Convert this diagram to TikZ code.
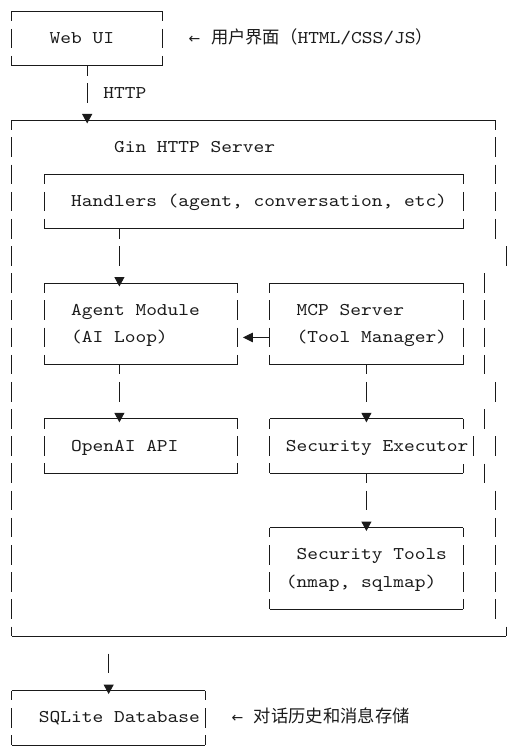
\documentclass[tikz,border=0pt]{standalone}
\usepackage{fontspec}
\usetikzlibrary{arrows.meta,calc,fit}
\newfontfamily\mono{lmmono10-regular.otf}[FakeStretch=1.1429]
\newfontfamily\cjk{Noto Sans CJK SC}
\newfontfamily\arrfont{DejaVu Sans}
\definecolor{ink}{HTML}{1A1A1A}
\newcommand\cjktext{\cjk\fontsize{17.3}{20}\selectfont}
\newcommand\asciibox[1]{%
  \draw[hline] (#1.north west) -- (#1.north east);
  \draw[hline] (#1.south west) -- (#1.south east);
  \draw[vside] (#1.north west) -- (#1.south west);
  \draw[vside] (#1.north east) -- (#1.south east);}
\begin{document}
\begin{tikzpicture}[x=10.74pt, y=-27.17pt, line width=1pt,
  hline/.style={draw=ink},
  vside/.style={draw=ink, dash pattern=on 19.6pt off 7.57pt, dash phase=9.8pt},
  area/.style={inner sep=0pt, outer sep=0pt},
  txt/.style={anchor=base west, inner sep=0pt, outer sep=0pt, font=\mono\fontsize{17.9}{20}\selectfont, text=ink},
  arr/.style={anchor=base, inner sep=0pt, font=\arrfont\fontsize{14}{16}\selectfont, text=ink},
  conn/.style={draw=ink, dash pattern=on 9.8pt off 7.57pt on 19.6pt off 40pt, -{Triangle[length=9.5pt,width=10pt]}},
  connb/.style={draw=ink, dash pattern=on 0pt off 17.37pt on 19.6pt off 40pt, -{Triangle[length=9.5pt,width=10pt]}},
  harr/.style={draw=ink, -{Triangle[length=10pt,width=9.5pt]}}]
\useasboundingbox (-1.1173,-0.4196) rectangle (47.02,27.405);

% box areas
\node[area, fit={(0,0)(14,2)}] (web) {};
\node[area, fit={(0,4)(45,23)}] (server) {};
\node[area, fit={(3,6)(42,8)}] (hand) {};
\node[area, fit={(3,10)(21,13)}] (agent) {};
\node[area, fit={(24,10)(42,13)}] (mcp) {};
\node[area, fit={(3,15)(21,17)}] (openai) {};
\node[area, fit={(24,15)(42,17)}] (secexec) {};
\node[area, fit={(24,19)(42,22)}] (tools) {};
\node[area, fit={(0,25)(18,27)}] (sqlite) {};

\coordinate (k9) at (9,0);
\coordinate (k10) at (10,0);
\coordinate (k33) at (33,0);
\coordinate (k12) at (0,12);

% regular boxes
\asciibox{web}
\asciibox{hand}
\asciibox{agent}
\asciibox{mcp}
\asciibox{openai}
\asciibox{tools}
\asciibox{sqlite}

% server box (irregular right side)
\draw[hline] (server.north west) -- (server.north east);
\draw[hline] (server.south west) -- ($(server.south east)+(1,0)$);
\draw[vside] (server.north west) -- (server.south west);
\draw[hline] (server.north east) -- ++(0,0.36);
\foreach \c/\r in {45/5,45/6,45/7,45/8,46/9,44/10,44/11,44/12,44/13,45/14,44/15,45/16,44/17,45/18,45/19,45/20,45/21,45/22}
  \draw[hline] (\c,\r-0.36) -- (\c,\r+0.36);
\draw[hline] ($(server.south east)+(1,-0.36)$) -- ($(server.south east)+(1,0)$);

% security executor box (irregular right side)
\draw[hline] (secexec.north west) -- (secexec.north east);
\draw[hline] (secexec.south west) -- (secexec.south east);
\draw[vside] (secexec.north west) -- (secexec.south west);
\draw[hline] (secexec.north east) -- ++(0,0.36);
\draw[hline] ($(secexec.east)+(1,-0.36)$) -- ($(secexec.east)+(1,0.36)$);
\draw[hline] (secexec.south east) -- ++(0,-0.36);

% connectors
\draw[conn] (web.south) -- ($(server.north -| web.south)+(0,0.125)$);
\draw[conn] (hand.south -| k10) -- ($(agent.north -| k10)+(0,0.125)$);
\draw[conn] (agent.south -| k10) -- ($(openai.north -| k10)+(0,0.125)$);
\draw[conn] (mcp.south -| k33) -- ($(secexec.north -| k33)+(0,0.125)$);
\draw[conn] (secexec.south -| k33) -- ($(tools.north -| k33)+(0,0.125)$);
\draw[connb] (server.south -| k9) -- ($(sqlite.north -| k9)+(0,0.125)$);
\draw[harr] (mcp.west |- k12) -- ($(agent.east |- k12)+(0.5,0)$);

% texts
\node[txt] (tweb) at (3.5,1.188) {Web UI};
\node[arr] (aweb) at (17,1.188) {←};
\node[txt] (nweb) at (18.53,1.188) {{\cjktext 用户界面（}HTML/CSS/JS{\cjktext ）}};
\node[txt] (thttp) at (8.5,3.188) {HTTP};
\node[txt] (tgin) at (9.5,5.188) {Gin HTTP Server};
\node[txt] (thand) at (5.5,7.188) {Handlers (agent, conversation, etc)};
\node[txt] (tagent1) at (5.5,11.188) {Agent Module};
\node[txt] (tagent2) at (5.5,12.188) {(AI Loop)};
\node[txt] (tmcp1) at (26.5,11.188) {MCP Server};
\node[txt] (tmcp2) at (26.5,12.188) {(Tool Manager)};
\node[txt] (topenai) at (5.5,16.188) {OpenAI API};
\node[txt] (tsec) at (25.5,16.188) {Security Executor};
\node[txt] (ttools1) at (26.5,20.188) {Security Tools};
\node[txt] (ttools2) at (25.5,21.188) {(nmap, sqlmap)};
\node[txt] (tsqlite) at (2.5,26.188) {SQLite Database};
\node[arr] (asql) at (21,26.188) {←};
\node[txt] (nsql) at (22.53,26.188) {{\cjktext 对话历史和消息存储}};
\end{tikzpicture}
\end{document}
